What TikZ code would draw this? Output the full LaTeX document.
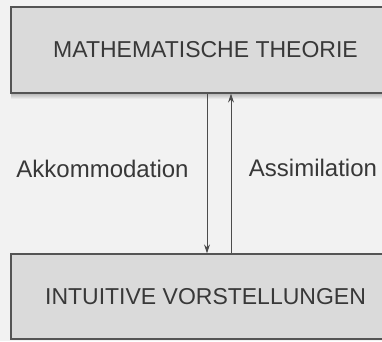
\documentclass[tikz,border=0pt]{standalone}
\usepackage{fontspec}
\setmainfont{Liberation Sans}
\usetikzlibrary{arrows.meta}
\definecolor{bg}{gray}{0.95}
\definecolor{boxfill}{gray}{0.855}
\definecolor{boxline}{gray}{0.33}
\definecolor{txt}{gray}{0.22}
\definecolor{arr}{gray}{0.3}
\begin{document}
\begin{tikzpicture}[x=1pt,y=-1pt,
  panel/.style={draw=boxline,line width=1.3pt,fill=boxfill,minimum width=389pt,
    inner sep=0pt,text=txt,font=\fontsize{23}{23}\selectfont},
  lbl/.style={text=txt,font=\fontsize{24}{24}\selectfont,anchor=base,inner sep=0pt},
  link/.style={draw=arr,line width=1pt,-{Stealth[length=9pt,width=6pt]}}]
\useasboundingbox (0,0) rectangle (382,341);
\clip (0,0) rectangle (382,341);
\fill[bg] (0,0) rectangle (382,341);
\shade[top color=gray!60,bottom color=bg] (11,93) rectangle (382,99);
\node[panel,minimum height=86pt] (theorie) at (205.5,50) {MATHEMATISCHE THEORIE};
\node[panel,minimum height=85pt] (intuitiv) at (205.5,296.5) {INTUITIVE VORSTELLUNGEN};
\coordinate (dx) at (207,0);
\coordinate (ux) at (231,0);
\draw[link] (theorie.south -| dx) -- (intuitiv.north -| dx);
\draw[link] (intuitiv.north -| ux) -- (theorie.south -| ux);
\node[lbl] (akk) at (102.5,177) {Akkommodation};
\node[lbl] (ass) at (313,176) {Assimilation};
\end{tikzpicture}
\end{document}
